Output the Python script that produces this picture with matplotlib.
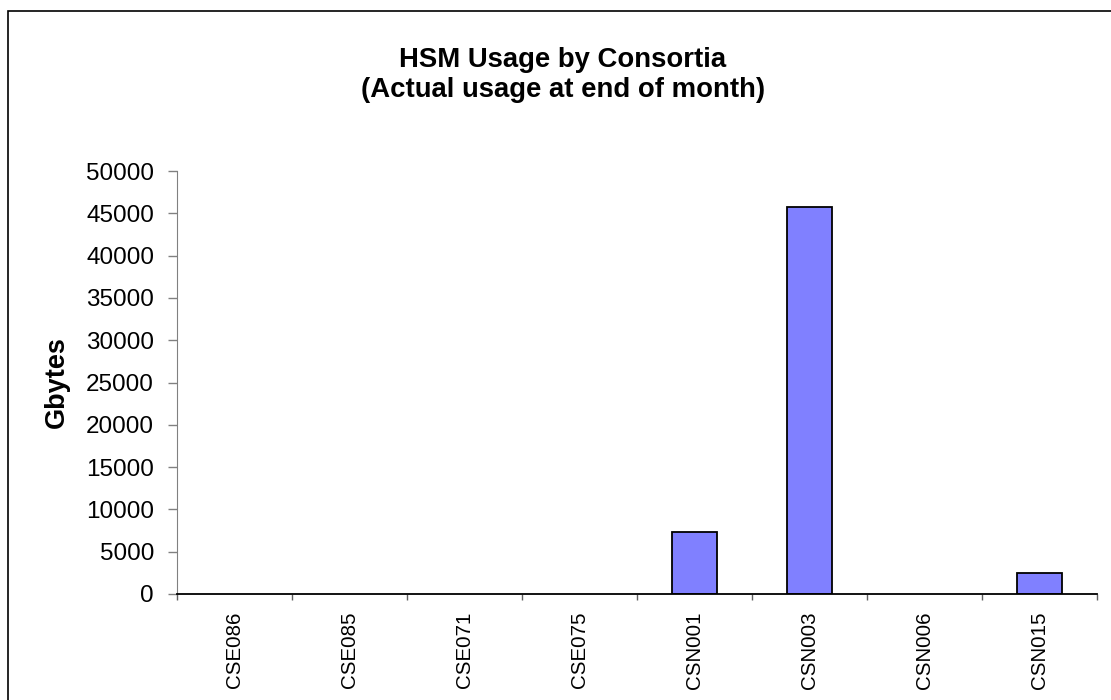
import numpy as np
import matplotlib
matplotlib.use("Agg")
import matplotlib.pyplot as plt
from matplotlib.patches import Rectangle

plt.rcParams['font.family'] = ['Liberation Sans', 'DejaVu Sans']

# data
consortia = ['CSE086', 'CSE085', 'CSE071', 'CSE075',
             'CSN001', 'CSN003', 'CSN006', 'CSN015']
gbytes = [0, 0, 0, 0, 7350, 45700, 0, 2450]
yticks = np.arange(0, 50001, 5000)

W, H = 1111, 700
fig = plt.figure(figsize=(W / 100, H / 100), dpi=100)
ax = fig.add_axes([177 / W, 1 - 594 / H, (1097 - 177) / W, (594 - 171) / H])

x = np.arange(len(consortia))
# empty bars get no outline, as in the original
edges = ['black' if v > 0 else 'none' for v in gbytes]
ax.bar(x, gbytes, width=0.39, color='#8080ff', edgecolor=edges, linewidth=1.3)

ax.set_xlim(-0.5, len(consortia) - 0.5)
ax.set_ylim(0, 50000)
ax.set_yticks(yticks)
ax.set_yticklabels([str(v) for v in yticks], fontsize=17.5)
ax.tick_params(axis='y', length=6.5, width=1, color='#808080', pad=10)

# labels at bar centres, tick marks between categories
ax.set_xticks(x)
ax.set_xticklabels(consortia, rotation=90, fontsize=14.8)
ax.tick_params(axis='x', which='major', length=0, pad=12.5)
ax.set_xticks(np.arange(-0.5, len(consortia)), minor=True)
ax.tick_params(axis='x', which='minor', length=4, width=1, color='#606060')

ax.spines['top'].set_visible(False)
ax.spines['right'].set_visible(False)
ax.spines['left'].set_color('#808080')
ax.spines['bottom'].set_color('black')
ax.spines['bottom'].set_linewidth(1.3)

fig.text(57 / W, 1 - 382 / H, 'Gbytes', rotation=90, fontsize=19.5,
         fontweight='bold', ha='center', va='center')
fig.text(563 / W, 1 - 60 / H, 'HSM Usage by Consortia', fontsize=19.8,
         fontweight='bold', ha='center', va='center')
fig.text(563 / W, 1 - 90 / H, '(Actual usage at end of month)', fontsize=19.8,
         fontweight='bold', ha='center', va='center')

# outer chart frame (only left and top edges fall inside the picture)
fig.patches.append(Rectangle((7.5 / W, -0.2), 1.2, 1.2 - 10.5 / H,
                             transform=fig.transFigure, fill=False,
                             edgecolor='black', linewidth=1.2))

fig.savefig('out.png', dpi=100)
